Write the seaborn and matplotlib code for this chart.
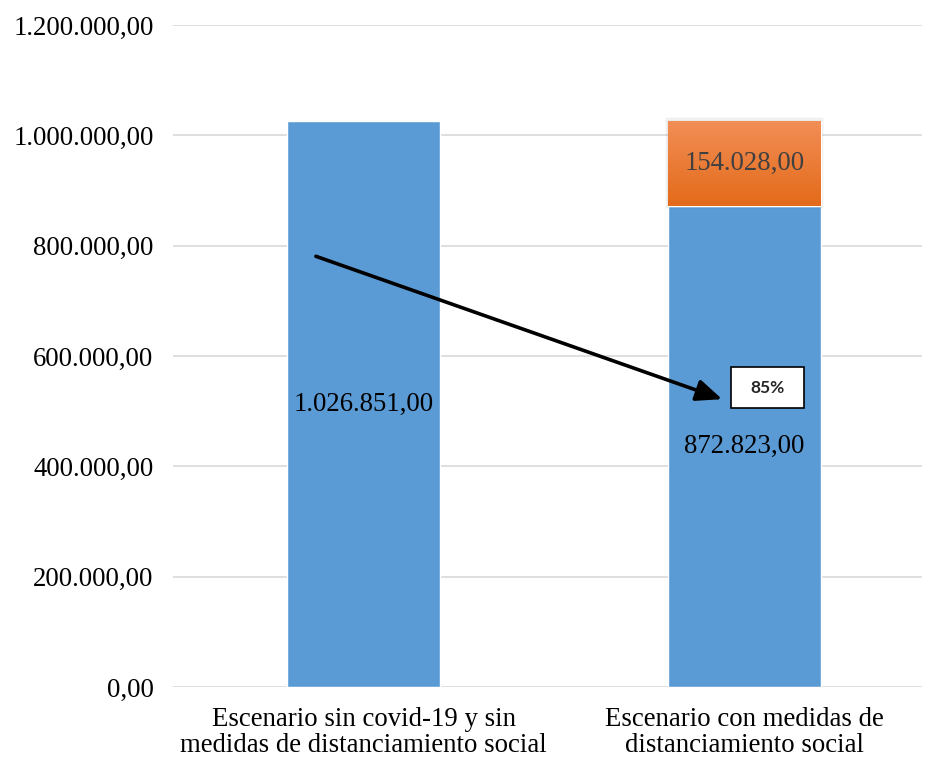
import matplotlib
matplotlib.use("Agg")
import matplotlib.pyplot as plt
import numpy as np
import pandas as pd
import seaborn as sns
from matplotlib.colors import LinearSegmentedColormap
from matplotlib.ticker import FuncFormatter

categories = [
    "Escenario sin covid-19 y sin\nmedidas de distanciamiento social",
    "Escenario con medidas de\ndistanciamiento social",
]
base_values = [1026851.00, 872823.00]
reduction_values = [0.0, 154028.00]
ratio_label = "85%"


def es_fmt(v, _pos=None):
    s = f"{v:,.2f}"
    return s.replace(",", "X").replace(".", ",").replace("X", ".")


sns.set_theme(style="white")
plt.rcParams["font.family"] = ["Liberation Serif", "DejaVu Serif"]
FS = 19.3

fig = plt.figure(figsize=(9.25, 7.61), dpi=100)
ax = fig.add_axes([0.187, 0.097, 0.81, 0.87])

df = pd.DataFrame({"escenario": categories, "valor": base_values})
sns.barplot(data=df, x="escenario", y="valor", color="#5B9BD5", saturation=1,
            width=0.40, ax=ax, zorder=2)

# orange stacked segment with vertical gradient
top = ax.bar([1], [reduction_values[1]], bottom=[base_values[1]], width=0.40,
             color="#ED7D31", zorder=3)[0]
# soft shadow
for i, a in enumerate([0.05, 0.035, 0.02]):
    d = 0.003 * (i + 1)
    ax.add_patch(plt.Rectangle((top.get_x() - d, top.get_y() - 2000 * (i + 1)),
                               top.get_width() + 2 * d,
                               top.get_height() + 4000 * (i + 1),
                               color="black", alpha=a, lw=0, zorder=2.5))
cmap = LinearSegmentedColormap.from_list("og", ["#E36A19", "#F28E56"])
grad = np.linspace(0, 1, 256).reshape(-1, 1)
im = ax.imshow(grad, cmap=cmap, origin="lower", aspect="auto", zorder=3.5,
               extent=[top.get_x(), top.get_x() + top.get_width(),
                       top.get_y(), top.get_y() + top.get_height()])
im.set_clip_path(top)

# value labels
ax.text(0, base_values[0] / 2, es_fmt(base_values[0]), ha="center", va="center",
        fontsize=FS, color="black", zorder=5)
ax.text(1, base_values[1] / 2, es_fmt(base_values[1]), ha="center", va="center",
        fontsize=FS, color="black", zorder=5)
ax.text(1, base_values[1] + reduction_values[1] / 2, es_fmt(reduction_values[1]),
        ha="center", va="center", fontsize=FS, color="#404040", zorder=5)

# arrow and ratio box
ax.annotate("", xy=(0.941, 522000), xytext=(-0.125, 781000),
            arrowprops=dict(arrowstyle="-|>,head_length=1.3,head_width=0.55",
                            color="black", lw=2.6, shrinkA=0, shrinkB=0),
            zorder=6)
ax.add_patch(plt.Rectangle((0.965, 505700), 0.192, 74300, fc="white",
                           ec="black", lw=1.2, zorder=7))
ax.text(1.061, 543000, ratio_label, ha="center", va="center", fontsize=12.5,
        fontweight="bold", family=["Lato", "DejaVu Sans"], zorder=8)

ax.set_ylim(0, 1200000)
ax.set_xlim(-0.5, 1.466)
ax.set_yticks(np.arange(0, 1200001, 200000))
ax.yaxis.set_major_formatter(FuncFormatter(es_fmt))
ax.grid(axis="y", color="#D9D9D9", lw=1.2, zorder=0)
ax.set_axisbelow(True)
for s in ax.spines.values():
    s.set_visible(False)
ax.tick_params(axis="both", length=0, labelsize=FS, colors="black")
ax.tick_params(axis="y", pad=14)
ax.tick_params(axis="x", pad=14)
ax.set_xlabel("")
ax.set_ylabel("")
for lbl in ax.get_xticklabels():
    lbl.set_linespacing(1.08)

fig.savefig("out.png", dpi=100)
